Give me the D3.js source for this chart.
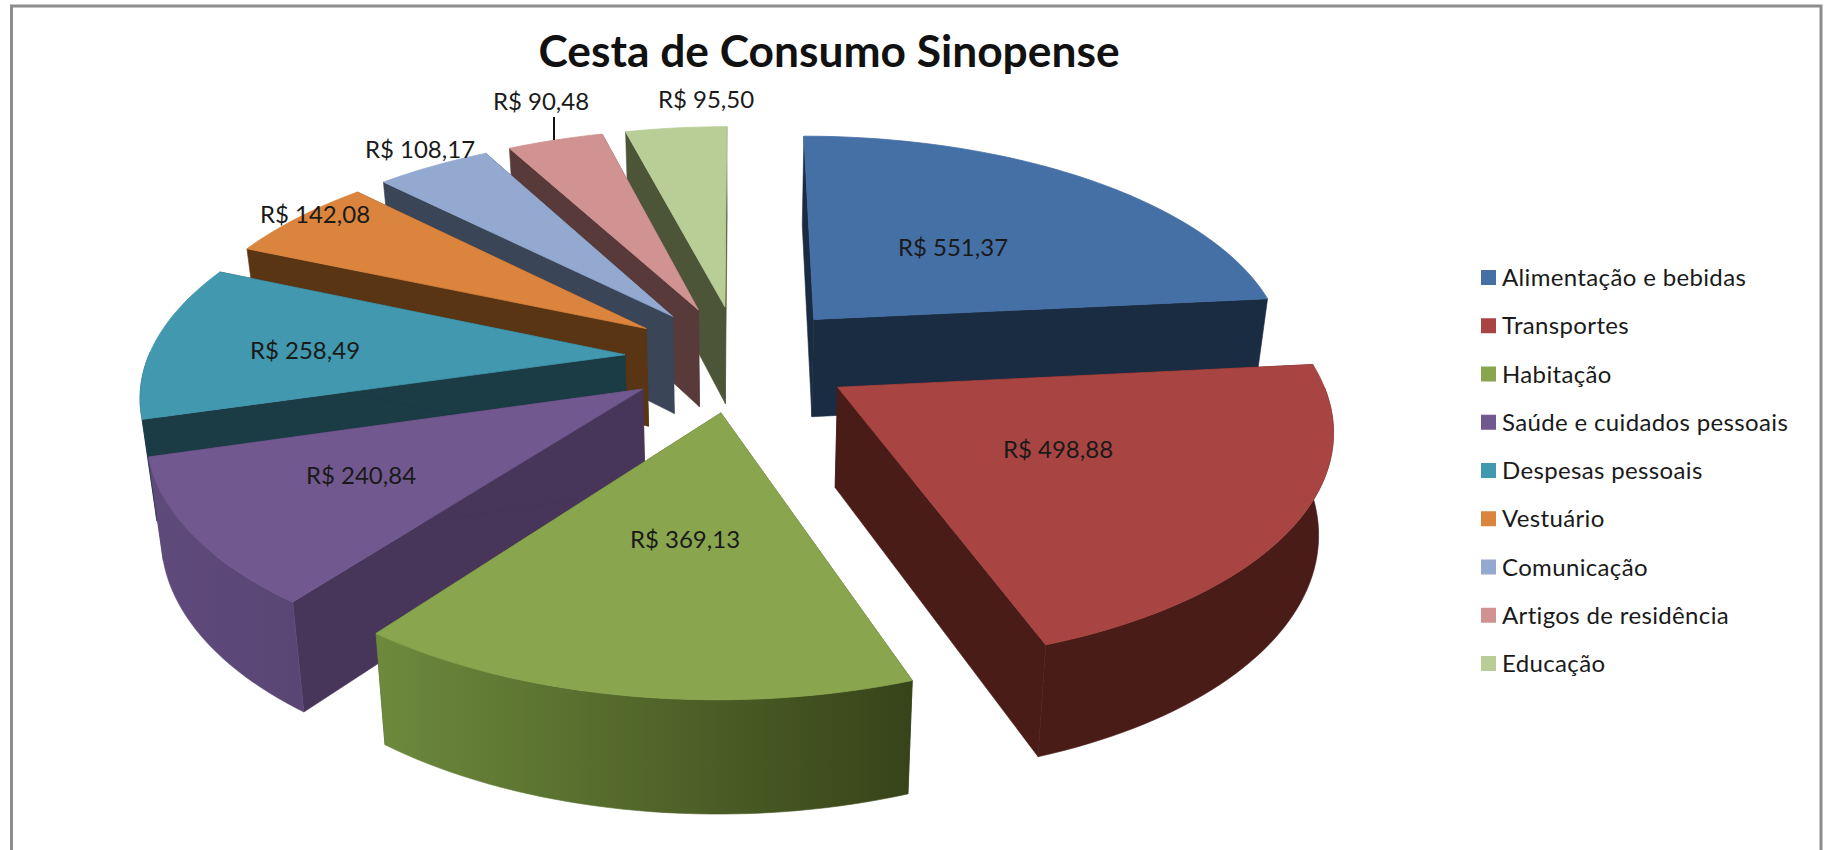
<!DOCTYPE html>
<html>
<head>
<meta charset="utf-8">
<script src="https://cdn.jsdelivr.net/npm/d3@7"></script>
<style>
  html, body { margin: 0; padding: 0; background: #fff; }
  svg { display: block; font-family: Lato, "Open Sans", sans-serif; }
</style>
</head>
<body>
<svg id="chart" width="1825" height="850"></svg>
<script>
const title = 'Cesta de Consumo Sinopense';
const categories = ['Alimentação e bebidas', 'Transportes', 'Habitação', 'Saúde e cuidados pessoais',
  'Despesas pessoais', 'Vestuário', 'Comunicação', 'Artigos de residência', 'Educação'];
const values = [551.37, 498.88, 369.13, 240.84, 258.49, 142.08, 108.17, 90.48, 95.50];
const topColors = ['#4570a6', '#a84441', '#89a54e', '#71588f', '#4198af', '#db843d', '#93a9cf', '#d19392', '#b9cd96'];
const wallColors = ['#1a2c42', '#491c18', '#3c4a1f', '#47355a', '#1b3b45', '#5a3514', '#3a4558', '#573a39', '#4d5539'];
const rimLight = ['#4570a6', '#491c18', '#6d8a3c', '#5f4a7c', '#1b3b45', '#5a3514', '#3a4558', '#573a39', '#4d5539'];
const rimDark = ['#1a2c42', '#491c18', '#374319', '#5a4675', '#1b3b45', '#5a3514', '#3a4558', '#573a39', '#4d5539'];

// painter order, back to front
const drawOrder = [0, 8, 7, 6, 5, 4, 3, 1, 2];

// hand placed, same spots as the original labels
const labelSpots = [[953, 248], [1058, 450], [685, 540], [361, 476], [305, 351], [315, 215], [420, 150], [541, 102], [706, 100]];

// perspective of the pie plane, fitted on the picture
const cx = 739, radius = 477, explode = 0.24, depthK = 0.156;
const horizonY = -1071, horizonDist = 1429, wallBase = 35, wallGrow = 64, shrink = 0.975;

const svg = d3.select('#chart');
const fmt = d => 'R$ ' + d.toFixed(2).replace('.', ',');

function project(u, v, down) {
  const t = 1 / (1 - depthK * v);
  const x = cx + radius * u * t;
  const y = horizonY + horizonDist * t;
  return down ? [cx + (x - cx) * shrink, y + wallBase + wallGrow * t] : [x, y];
}

const pie = d3.pie().sort(null).value(d => d)(values);
const line = d3.line();
const defs = svg.append('defs');

// frame, the bottom edge is cut off by the page
svg.append('rect').attr('x', 11.5).attr('y', 6).attr('width', 1809.5).attr('height', 860)
  .attr('fill', '#fff').attr('stroke', '#8c8c8c').attr('stroke-width', 3);

const slices = pie.map((d, i) => {
  const mid = (d.startAngle + d.endAngle) / 2;
  const ou = explode * Math.sin(mid), ov = -explode * Math.cos(mid);
  const n = Math.max(8, Math.round((d.endAngle - d.startAngle) * 40));
  const angles = d3.range(n + 1).map(k => d.startAngle + (d.endAngle - d.startAngle) * k / n);
  const arc = angles.map(a => [ou + Math.sin(a), ov - Math.cos(a)]);
  const front = arc.filter((p, k) => Math.cos(angles[k]) < 0.02);
  return { i, apex: [ou, ov], arc, front };
});

const pts = (list, down) => list.map(p => project(p[0], p[1], down));

drawOrder.forEach(i => {
  const s = slices[i];
  const g = svg.append('g').attr('class', 'slice');
  const first = s.arc[0], last = s.arc[s.arc.length - 1];

  [first, last].forEach(edge => {
    const quad = [project(s.apex[0], s.apex[1], false), project(edge[0], edge[1], false),
      project(edge[0], edge[1], true), project(s.apex[0], s.apex[1], true)];
    g.append('path').attr('d', line(quad) + 'Z').attr('fill', wallColors[i])
      .attr('stroke', wallColors[i]).attr('stroke-width', 0.6);
  });

  // shaded rim, only the part that faces the viewer
  if (s.front.length > 1) {
    const topArc = pts(s.front, false), botArc = pts(s.front, true);
    const xs = topArc.map(p => p[0]);
    const grad = defs.append('linearGradient').attr('id', 'rim' + i)
      .attr('gradientUnits', 'userSpaceOnUse')
      .attr('x1', d3.min(xs)).attr('x2', d3.max(xs)).attr('y1', 0).attr('y2', 0);
    grad.append('stop').attr('offset', 0).attr('stop-color', rimLight[i]);
    grad.append('stop').attr('offset', 1).attr('stop-color', rimDark[i]);
    g.append('path').attr('d', line(topArc.concat(botArc.slice().reverse())) + 'Z')
      .attr('fill', `url(#rim${i})`).attr('stroke', `url(#rim${i})`).attr('stroke-width', 0.6);
  }

  g.append('path').attr('d', line([project(s.apex[0], s.apex[1], false)].concat(pts(s.arc, false))) + 'Z')
    .attr('fill', topColors[i]).attr('stroke', topColors[i]).attr('stroke-width', 0.8);
});

// leader of the Artigos label
svg.append('line').attr('x1', 554).attr('x2', 554).attr('y1', 117).attr('y2', 140)
  .attr('stroke', '#111').attr('stroke-width', 2);

svg.selectAll('text.value').data(values).join('text')
  .attr('class', 'value')
  .attr('x', (d, i) => labelSpots[i][0])
  .attr('y', (d, i) => labelSpots[i][1] + 8)
  .attr('text-anchor', 'middle')
  .attr('font-size', 24)
  .attr('fill', '#1a1a1a')
  .text(fmt);

svg.append('text').attr('x', 829).attr('y', 67).attr('text-anchor', 'middle')
  .attr('font-size', 44.3).attr('font-weight', 700).attr('fill', '#111').text(title);

const legendY = d3.scalePoint().domain(categories).range([278, 664]);
const legend = svg.selectAll('g.legend').data(categories).join('g')
  .attr('class', 'legend')
  .attr('transform', d => `translate(1481,${legendY(d)})`);
legend.append('rect').attr('x', 0).attr('y', -8).attr('width', 15).attr('height', 15)
  .attr('fill', (d, i) => topColors[i]);
legend.append('text').attr('x', 21).attr('y', 8).attr('font-size', 24).attr('letter-spacing', 0.35)
  .attr('fill', '#1a1a1a').text(d => d);
</script>
</body>
</html>
